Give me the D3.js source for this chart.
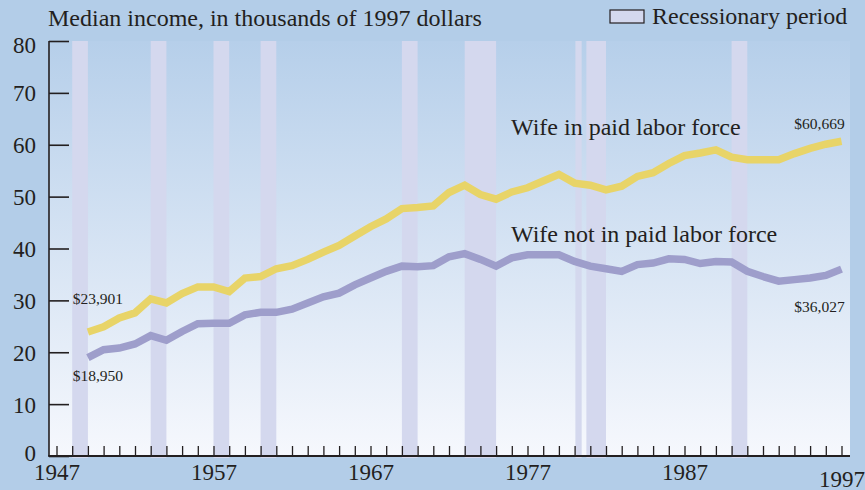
<!DOCTYPE html>
<html>
<head>
<meta charset="utf-8">
<script src="https://cdn.jsdelivr.net/npm/d3@7"></script>
<style>
  body { margin: 0; background: #b3cde8; }
  svg { display: block; }
  text { font-family: "Liberation Serif", "Times New Roman", serif; fill: #231f20; }
</style>
</head>
<body>
<div id="container"></div>
<script>
const w = 865;
const h = 490;

// yearly values, thousands of 1997 dollars, 1949-1997
const years = d3.range(1949, 1998);
const wifeWorking = [
  23.9, 24.9, 26.6, 27.6, 30.3, 29.5, 31.3, 32.6, 32.6, 31.7,
  34.3, 34.6, 36.1, 36.7, 37.9, 39.3, 40.6, 42.4, 44.2, 45.7,
  47.7, 47.9, 48.2, 50.8, 52.2, 50.4, 49.5, 50.9, 51.7, 53.0,
  54.3, 52.6, 52.2, 51.3, 52.0, 53.9, 54.6, 56.4, 57.9, 58.4,
  59.0, 57.6, 57.1, 57.1, 57.1, 58.3, 59.3, 60.1, 60.669
];
const wifeNotWorking = [
  18.95, 20.5, 20.8, 21.6, 23.2, 22.3, 24.0, 25.5, 25.6, 25.6,
  27.2, 27.7, 27.7, 28.3, 29.5, 30.7, 31.4, 33.0, 34.3, 35.6,
  36.6, 36.5, 36.7, 38.4, 39.0, 37.9, 36.6, 38.2, 38.8, 38.8,
  38.8, 37.5, 36.6, 36.1, 35.6, 36.9, 37.2, 38.0, 37.9, 37.1,
  37.5, 37.4, 35.6, 34.6, 33.7, 34.0, 34.3, 34.8, 36.027
];
const recessions = [
  [1948, 1949], [1953, 1954], [1957, 1958], [1960, 1961], [1969, 1970],
  [1973, 1975], [1980.05, 1980.45], [1980.75, 1982], [1990, 1991]
];
const yTicks = [0, 10, 20, 30, 40, 50, 60, 70, 80];
const xLabels = [1947, 1957, 1967, 1977, 1987, 1997];

const x = d3.scaleLinear().domain([1947, 1997]).range([56.5, 841.5]);
const y = d3.scaleLinear().domain([0, 80]).range([456, 41]);

const svg = d3.select('#container')
  .append('svg')
    .attr('width', w)
    .attr('height', h)
    .attr('viewBox', [0, 0, w, h]);

const grad = svg.append('defs').append('linearGradient')
  .attr('id', 'panel')
  .attr('x1', 0).attr('y1', 0).attr('x2', 0).attr('y2', 1);
grad.append('stop').attr('offset', '0%').attr('stop-color', '#b6cfea');
grad.append('stop').attr('offset', '100%').attr('stop-color', '#f6f8fd');

svg.append('rect')
  .attr('width', w)
  .attr('height', h)
  .attr('fill', '#b3cde8');

svg.append('rect')
  .attr('x', 49)
  .attr('y', y(80))
  .attr('width', 850 - 49)
  .attr('height', y(0) - y(80))
  .attr('fill', 'url(#panel)');

// recession bars
svg.selectAll('.rec')
  .data(recessions)
  .enter()
  .append('rect')
  .attr('class', 'rec')
  .attr('x', d => x(d[0]))
  .attr('width', d => x(d[1]) - x(d[0]))
  .attr('y', y(80))
  .attr('height', y(0) - y(80) + 2)
  .attr('fill', '#d4d8ee');

// axes
const yAxis = d3.axisLeft(y)
  .tickValues(yTicks)
  .tickSize(-20)
  .tickSizeOuter(0)
  .tickPadding(13);

const gy = svg.append('g')
  .attr('transform', 'translate(49, 0)')
  .call(yAxis);
gy.select('.domain').remove();
gy.selectAll('line').attr('stroke', '#231f20').attr('stroke-width', 1.6);
gy.selectAll('text')
  .attr('fill', '#231f20')
  .attr('dy', d => d === 0 ? '0.18em' : d === 80 ? '0.52em' : '0.35em')
  .style('font-size', '23px');

const xAxis = d3.axisBottom(x)
  .tickValues(d3.range(1947, 1998))
  .tickSize(-10)
  .tickSizeOuter(0)
  .tickFormat(d => xLabels.includes(d) ? d : '');

const gx = svg.append('g')
  .attr('transform', 'translate(0, ' + y(0) + ')')
  .call(xAxis);
gx.select('.domain').remove();
gx.selectAll('line').attr('stroke', '#231f20').attr('stroke-width', 1.3);
gx.selectAll('text')
  .attr('fill', '#231f20')
  .attr('y', d => d === 1997 ? 31 : 24)
  .attr('dy', 0)
  .style('font-size', '23px');

svg.append('line')
  .attr('x1', 49).attr('x2', 49)
  .attr('y1', y(80)).attr('y2', y(0))
  .attr('stroke', '#231f20').attr('stroke-width', 1.6);
svg.append('line')
  .attr('x1', 48.2).attr('x2', 850)
  .attr('y1', y(0)).attr('y2', y(0))
  .attr('stroke', '#231f20').attr('stroke-width', 2);

// lines
const line = d3.line()
  .x((d, i) => x(years[i]))
  .y(d => y(d));

svg.append('path')
  .datum(wifeNotWorking)
  .attr('fill', 'none')
  .attr('stroke', '#9e9ecb')
  .attr('stroke-width', 7.5)
  .attr('d', line);

svg.append('path')
  .datum(wifeWorking)
  .attr('fill', 'none')
  .attr('stroke', '#e8d468')
  .attr('stroke-width', 7.5)
  .attr('d', line);

// titles and labels
svg.append('text')
  .attr('x', 48)
  .attr('y', 26)
  .style('font-size', '24px')
  .text('Median income, in thousands of 1997 dollars');

svg.append('rect')
  .attr('x', 610)
  .attr('y', 10)
  .attr('width', 34)
  .attr('height', 13)
  .attr('fill', '#d4d8ee')
  .attr('stroke', '#231f20')
  .attr('stroke-width', 1.2);

svg.append('text')
  .attr('x', 652)
  .attr('y', 23.5)
  .style('font-size', '24px')
  .text('Recessionary period');

svg.append('text')
  .attr('x', 511)
  .attr('y', 135)
  .style('font-size', '24px')
  .text('Wife in paid labor force');

svg.append('text')
  .attr('x', 511)
  .attr('y', 242)
  .style('font-size', '24px')
  .text('Wife not in paid labor force');

const valueLabels = [
  { t: '$23,901', yr: 1948, v: 29.3, anchor: 'start' },
  { t: '$18,950', yr: 1948, v: 14.45, anchor: 'start' },
  { t: '$60,669', yr: 1997.2, v: 63.0, anchor: 'end' },
  { t: '$36,027', yr: 1997.2, v: 27.85, anchor: 'end' }
];

svg.selectAll('.vlab')
  .data(valueLabels)
  .enter()
  .append('text')
  .attr('class', 'vlab')
  .attr('x', d => x(d.yr) + (d.anchor === 'start' ? 0.5 : 0))
  .attr('y', d => y(d.v))
  .attr('text-anchor', d => d.anchor)
  .style('font-size', '15.5px')
  .text(d => d.t);
</script>
</body>
</html>
